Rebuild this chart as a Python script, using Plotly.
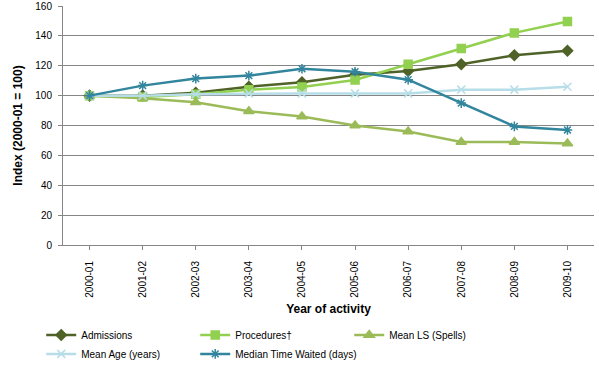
import plotly.graph_objects as go

years = ["2000-01", "2001-02", "2002-03", "2003-04", "2004-05",
         "2005-06", "2006-07", "2007-08", "2008-09", "2009-10"]
admissions = [100, 100, 102, 106, 109, 114, 116.5, 121, 127, 130]
procedures = [100, 99, 101, 104, 105.8, 110.5, 121, 131.5, 142, 149.6]
mean_ls = [100, 98.3, 95.5, 89.5, 86, 80, 76, 69, 69, 68]
mean_age = [100, 100, 101, 101.5, 101.5, 101.5, 101.5, 104, 104, 106]
median_wait = [100, 106.7, 111.4, 113.4, 118, 116, 110.7, 95, 79.4, 77]

series = [
    ("Admissions", admissions, "#4F6228", "diamond", 8),
    ("Procedures†", procedures, "#92D050", "square", 8),
    ("Mean LS (Spells)", mean_ls, "#9BBB59", "triangle-up", 9),
    ("Mean Age (years)", mean_age, "#B7DEE8", "x-thin-open", 8),
    ("Median Time Waited (days)", median_wait, "#31859C", "asterisk-open", 8),
]

fig = go.Figure()
for name, vals, color, sym, size in series:
    fig.add_trace(go.Scatter(
        x=years, y=vals, name=name, mode="lines+markers",
        line=dict(color=color, width=2.5),
        marker=dict(symbol=sym, size=size, color=color,
                    line=dict(color=color, width=1.5)),
    ))

font = "Liberation Sans, Arial, sans-serif"
fig.update_layout(
    width=599, height=367,
    margin=dict(l=63, r=5, t=6, b=122),
    plot_bgcolor="white", paper_bgcolor="white",
    font=dict(family=font, size=10, color="black"),
    xaxis=dict(
        type="category", tickangle=-90, showgrid=False, automargin=False,
        showline=True, linecolor="#868686", linewidth=1,
        ticks="outside", ticklen=4, tickcolor="#868686", ticklabelstandoff=7,
        tickfont=dict(size=10),
        title=dict(text="<b>Year of activity</b>", font=dict(size=12), standoff=7),
        range=[-0.5, 9.5],
    ),
    yaxis=dict(
        range=[0, 160], dtick=20, showgrid=True, gridcolor="#868686", gridwidth=1,
        showline=True, linecolor="#868686", linewidth=1, automargin=False,
        ticks="outside", ticklen=4, tickcolor="#868686", ticklabelstandoff=4,
        tickfont=dict(size=10), zeroline=False,
        title=dict(text="<b>Index (2000-01 = 100)</b>", font=dict(size=12), standoff=10),
    ),
    legend=dict(
        orientation="h", xref="container", yref="container",
        x=0.0688, xanchor="left", y=0.127, yanchor="top",
        entrywidth=109, entrywidthmode="pixels",
        font=dict(size=10), tracegroupgap=0, itemwidth=30,
    ),
)
fig.write_html("out.html", config={"displayModeBar": False},
               post_script="document.body.style.margin='0';")
